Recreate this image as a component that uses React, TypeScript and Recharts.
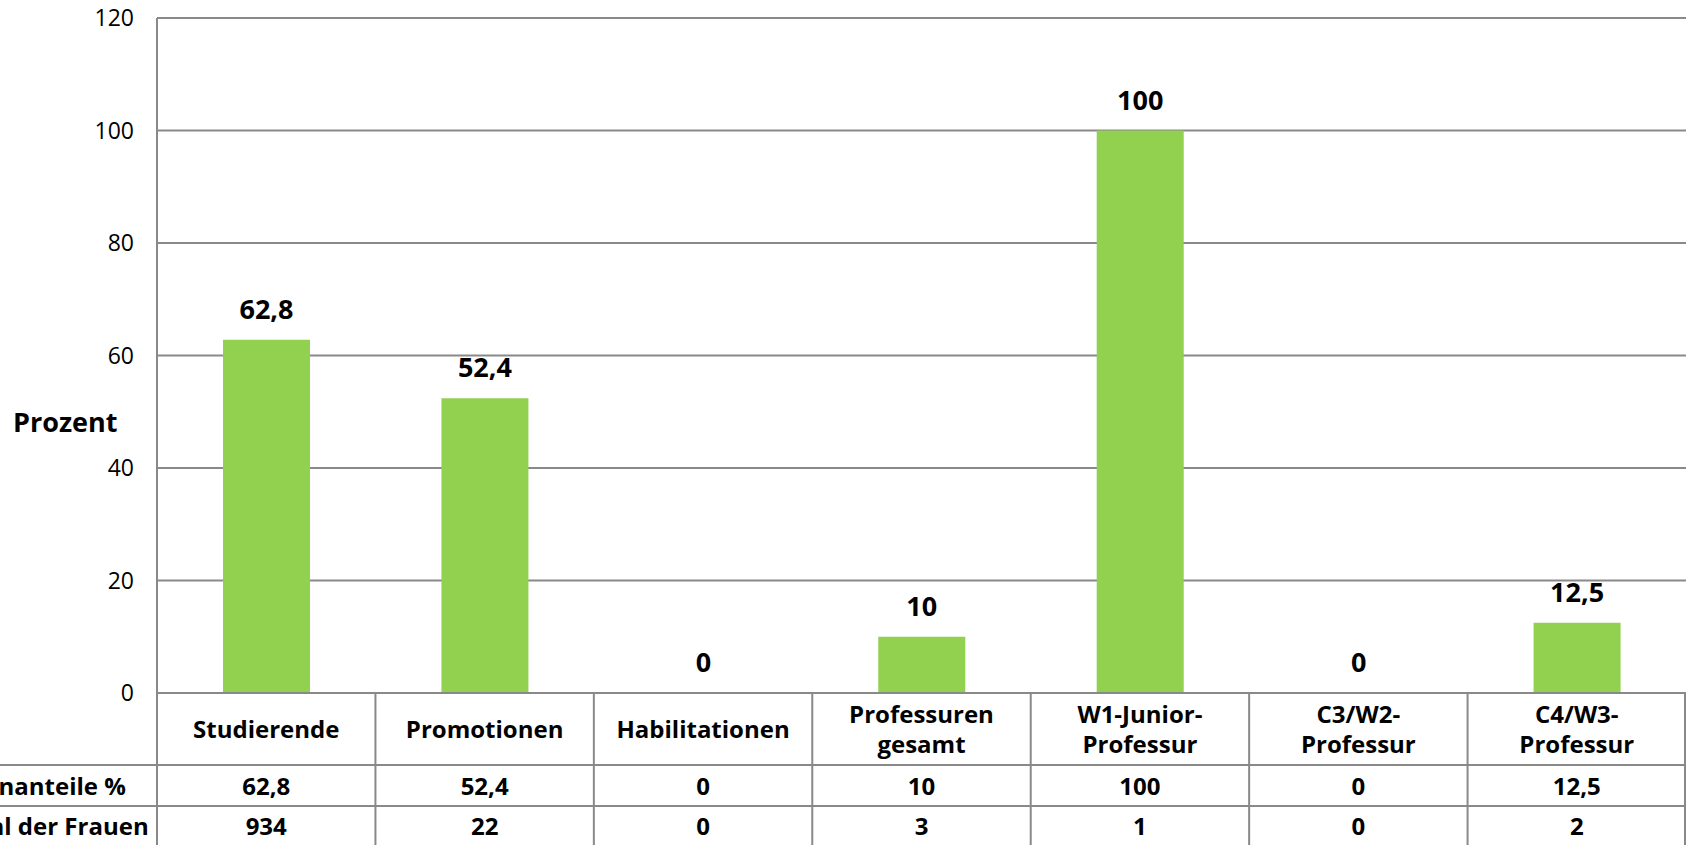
import React from "react";
import { Bar, BarChart, CartesianGrid, LabelList, XAxis, YAxis } from "recharts";

// Kategorien (Zeilenumbruch = zweite Zeile im Tabellenkopf)
const CATEGORIES = [
  "Studierende",
  "Promotionen",
  "Habilitationen",
  "Professuren\ngesamt",
  "W1-Junior-\nProfessur",
  "C3/W2-\nProfessur",
  "C4/W3-\nProfessur",
];
const FRAUENANTEIL = [62.8, 52.4, 0, 10, 100, 0, 12.5];
const ANZAHL_FRAUEN = [934, 22, 0, 3, 1, 0, 2];
const ROW_LABELS = ["Frauenanteile %", "Anzahl der Frauen"];
const Y_TICKS = [0, 20, 40, 60, 80, 100, 120];

const W = 1688;
const H = 845;
const MARGIN = { top: 18, right: 2, bottom: 0, left: 0 };
const Y_AXIS_W = 157;
const X_AXIS_H = 152;
const BAND = (W - MARGIN.left - MARGIN.right - Y_AXIS_W) / CATEGORIES.length;

const FONT = "'Open Sans', sans-serif";
const LINE = "#898989";
const GREEN = "#92D050";

const fmt = (v: number | string) => String(v).replace(".", ",");

const data = CATEGORIES.map((name, i) => ({ name, anteil: FRAUENANTEIL[i] }));

const cellText = { fontFamily: FONT, fontSize: 24, fontWeight: 700, fill: "#000" } as const;

function TableTick(props: any) {
  const { x, y, payload } = props;
  const i = CATEGORIES.indexOf(payload.value);
  const half = BAND / 2;
  const top = y;
  const r1 = top + 72;
  const r2 = top + 113;
  const bottom = H;
  const headCenter = top + 36;
  const lines = String(payload.value).split("\n");
  const left = x - half;
  const right = x + half;
  return (
    <g>
      <line x1={left} y1={top} x2={left} y2={bottom} stroke={LINE} strokeWidth={2} />
      {i === CATEGORIES.length - 1 && (
        <line x1={right - 1} y1={top} x2={right - 1} y2={bottom} stroke={LINE} strokeWidth={2} />
      )}
      <line x1={i === 0 ? 0 : left} y1={r1} x2={right} y2={r1} stroke={LINE} strokeWidth={2} />
      <line x1={i === 0 ? 0 : left} y1={r2} x2={right} y2={r2} stroke={LINE} strokeWidth={2} />
      {lines.map((t, k) => (
        <text
          key={k}
          x={x}
          y={headCenter + (k - (lines.length - 1) / 2) * 30 + 9}
          textAnchor="middle"
          {...cellText}
        >
          {t}
        </text>
      ))}
      <text x={x} y={(r1 + r2) / 2 + 9} textAnchor="middle" {...cellText}>
        {fmt(FRAUENANTEIL[i])}
      </text>
      <text x={x} y={r2 + 20 + 9} textAnchor="middle" {...cellText}>
        {ANZAHL_FRAUEN[i]}
      </text>
      {i === 0 &&
        ROW_LABELS.map((lab, k) => (
          <text
            key={lab}
            x={-70}
            y={k === 0 ? (r1 + r2) / 2 + 9 : r2 + 20 + 9}
            textAnchor="start"
            {...cellText}
          >
            {lab}
          </text>
        ))}
    </g>
  );
}

export default function App() {
  return (
    <div style={{ position: "absolute", left: 0, top: 0, width: W, height: H, background: "#fff" }}>
      <BarChart width={W} height={H} data={data} margin={MARGIN}>
        <CartesianGrid vertical={false} stroke={LINE} strokeWidth={2} />
        <XAxis
          dataKey="name"
          interval={0}
          height={X_AXIS_H}
          tickLine={false}
          tickSize={0}
          tickMargin={0}
          axisLine={{ stroke: LINE, strokeWidth: 2 }}
          tick={(p: any) => <TableTick {...p} />}
        />
        <YAxis
          width={Y_AXIS_W}
          domain={[0, 120]}
          ticks={Y_TICKS}
          interval={0}
          tickLine={false}
          tickSize={0}
          tickMargin={23}
          axisLine={{ stroke: LINE, strokeWidth: 2 }}
          tick={{ fill: "#000", fontSize: 23, fontFamily: FONT }}
          label={{
            content: () => (
              <text x={13} y={432} fontFamily={FONT} fontSize={27} fontWeight={700} fill="#000">
                Prozent
              </text>
            ),
          }}
        />
        <Bar dataKey="anteil" fill={GREEN} barSize={87} minPointSize={0.5} isAnimationActive={false}>
          <LabelList
            dataKey="anteil"
            position="top"
            offset={21}
            formatter={fmt as any}
            fill="#000"
            fontSize={27}
            fontWeight={700}
            fontFamily={FONT}
          />
        </Bar>
      </BarChart>
    </div>
  );
}
